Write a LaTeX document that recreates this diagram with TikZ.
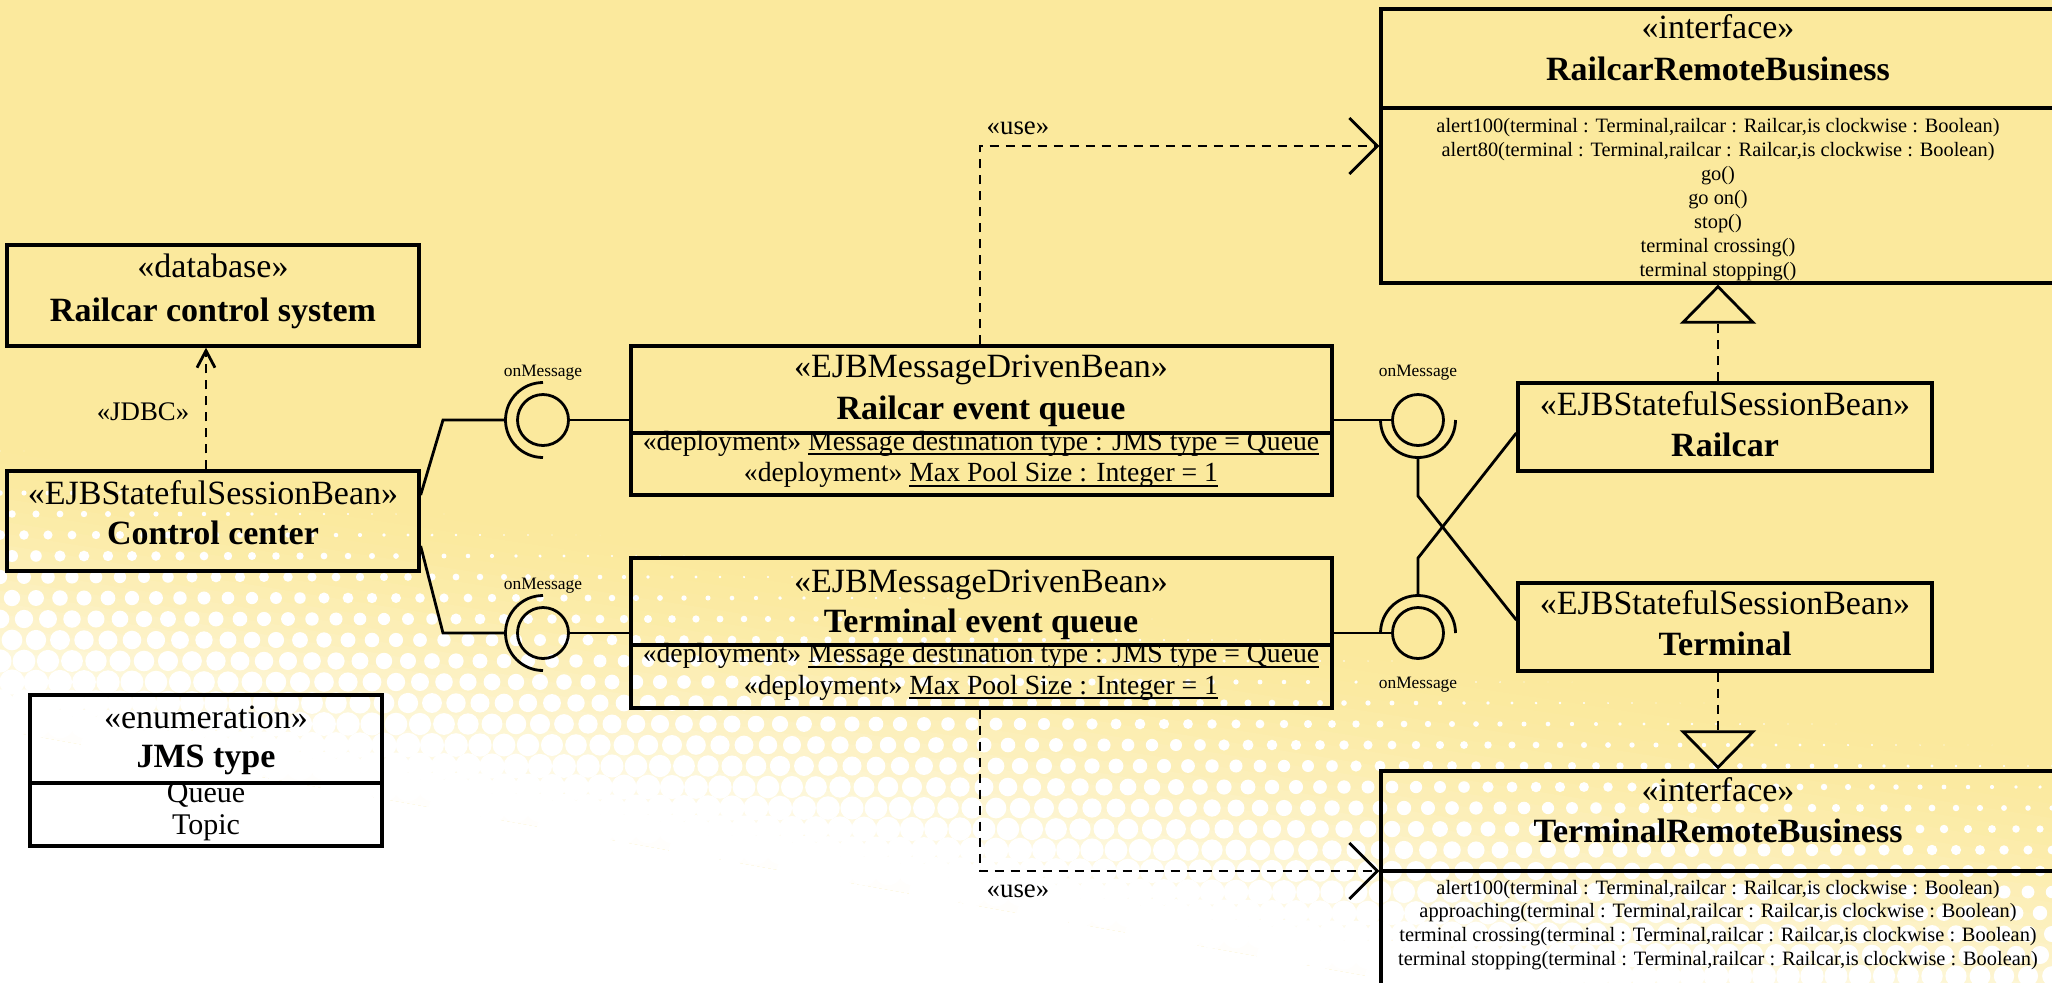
\documentclass[tikz,border=0pt]{standalone}
\usepackage{fontspec}
\setmainfont{Liberation Serif}
\usetikzlibrary{arrows.meta,calc}
\definecolor{bgyellow}{RGB}{251,233,157}
% underline set just under the baseline, through the descenders
\newcommand{\undl}[1]{\setbox0\hbox{#1}\rlap{\vrule height -1.7pt depth 2.6pt width \wd0}\box0}
\tikzset{
  umlbox/.style={draw, rectangle, line width=1.65pt, inner sep=0pt},
  sep/.style={line width=1.65pt},
  conn/.style={line width=1.4pt},
  dep/.style={conn, dash pattern=on 4.8pt off 3.2pt},
  lbl/.style={inner sep=0pt, text height=0.9em, text depth=0.2em, anchor=center},
  hdr/.style={lbl, font=\fontsize{17}{20}\selectfont},
  hdrb/.style={lbl, font=\fontsize{17}{20}\selectfont\bfseries},
  attr/.style={lbl, font=\fontsize{13.85}{16}\selectfont},
  lit/.style={lbl, font=\fontsize{15}{18}\selectfont},
  op/.style={lbl, font=\fontsize{10.2}{12}\selectfont},
  portlbl/.style={lbl, font=\fontsize{8.7}{10}\selectfont},
  deplbl/.style={lbl, font=\fontsize{13.4}{16}\selectfont},
  ball/.style={draw, circle, line width=1.4pt, minimum size=25.5pt, inner sep=0pt},
  socket/.style={line width=1.4pt},
  openv/.style={-{Straight Barb[length=14pt,width=28pt,line width=1.4pt]}},
  smallv/.style={-{Straight Barb[length=8.5pt,width=9pt,line width=1.4pt]}},
  realize/.style={-{Triangle[open,length=19.5pt,width=38pt,line width=1.4pt]}},
}
% halftone band: t = 0 on y = 440 + 0.15x, t = 1 on y = 730 + 0.18x
\newcommand{\bandy}[2]{440+0.15*(#1)+(#2)*(290+0.03*(#1))}
\begin{document}
\begin{tikzpicture}[x=0.5pt,y=-0.5pt]
\useasboundingbox (0,0) rectangle (2052,982);
\clip (0,0) rectangle (2052,982);

% paper: yellow fading into white through a halftone band
\fill[bgyellow] (0,0) rectangle (2052,982);
\foreach \k in {0,...,24}{
  \pgfmathsetmacro{\ta}{\k/25}
  \pgfmathsetmacro{\tb}{min(1,(\k+1.6)/25)}
  \pgfmathsetmacro{\mix}{100*(1-(\ta+0.02)^1.6)}
  \pgfmathsetmacro{\ya}{\bandy{0}{\ta}}
  \pgfmathsetmacro{\yb}{\bandy{2052}{\ta}}
  \pgfmathsetmacro{\yc}{\bandy{2052}{\tb}}
  \pgfmathsetmacro{\yd}{\bandy{0}{\tb}}
  \fill[bgyellow!\mix!white] (0,\ya) -- (2052,\yb) -- (2052,\yc) -- (0,\yd) -- cycle;
}
\fill[white] (0,730) -- (2052,1099.4) -- (2052,1200) -- (0,1200) -- cycle;
\foreach \j in {0,...,27}{
  \foreach \i in {0,...,87}{
    \pgfmathsetmacro{\px}{24*\i-12+12*mod(\j,2)}
    \pgfmathsetmacro{\py}{430+21*\j}
    \pgfmathsetmacro{\tval}{(\py-440-0.15*\px)/(290+0.03*\px)}
    \ifdim\tval pt>0pt
      \ifdim\tval pt<1pt
        \fill[white] (\px,\py) circle[radius=\tval*7.6pt];
      \fi
    \fi
  }
}

% classes
\node[umlbox, minimum width=206pt, minimum height=50.5pt] (db) at (213,295.5) {};
\node[hdr]  (dbS) at (213,270) {«database»};
\node[hdrb] (dbN) at (213,314) {Railcar control system};

\node[umlbox, minimum width=206pt, minimum height=50pt] (cc) at (213,521) {};
\node[hdr]  (ccS) at (213,497) {«EJBStatefulSessionBean»};
\node[hdrb] (ccN) at (213,537) {Control center};

\node[umlbox, minimum width=350.5pt, minimum height=74.5pt] (rq) at (981.5,420.5) {};
\draw[sep] (rq.west |- 0,433) -- (rq.east |- 0,433);
\node[hdr]  (rqS) at (981,370) {«EJBMessageDrivenBean»};
\node[hdrb] (rqN) at (981,412) {Railcar event queue};
\node[attr] (rqA) at (981,443) {«deployment» \undl{Message destination type : JMS type = Queue}};
\node[attr] (rqB) at (981,474.5) {«deployment» \undl{Max Pool Size : Integer = 1}};

\node[umlbox, minimum width=350.5pt, minimum height=75pt] (tq) at (981.5,633) {};
\draw[sep] (tq.west |- 0,645) -- (tq.east |- 0,645);
\node[hdr]  (tqS) at (981,585) {«EJBMessageDrivenBean»};
\node[hdrb] (tqN) at (981,625) {Terminal event queue};
\node[attr] (tqA) at (981,655.5) {«deployment» \undl{Message destination type : JMS type = Queue}};
\node[attr] (tqB) at (981,687) {«deployment» \undl{Max Pool Size : Integer = 1}};

\node[umlbox, minimum width=207pt, minimum height=44pt] (rs) at (1725,427) {};
\node[hdr]  (rsS) at (1725,408) {«EJBStatefulSessionBean»};
\node[hdrb] (rsN) at (1725,449) {Railcar};

\node[umlbox, minimum width=207pt, minimum height=44pt] (ts) at (1725,627) {};
\node[hdr]  (tsS) at (1725,607) {«EJBStatefulSessionBean»};
\node[hdrb] (tsN) at (1725,648) {Terminal};

\node[umlbox, minimum width=337.5pt, minimum height=137pt] (rrb) at (1718.5,146) {};
\draw[sep] (rrb.west |- 0,108) -- (rrb.east |- 0,108);
\node[hdr]  (rrbS) at (1718,31) {«interface»};
\node[hdrb] (rrbN) at (1718,73) {RailcarRemoteBusiness};
\foreach \t [count=\k] in {
  {alert100(terminal : Terminal,railcar : Railcar,is clockwise : Boolean)},
  {alert80(terminal : Terminal,railcar : Railcar,is clockwise : Boolean)},
  {go()}, {go on()}, {stop()}, {terminal crossing()}, {terminal stopping()}}
  \node[op] (rrbOp\k) at (1718,{125+24*(\k-1)}) {\t};

\node[umlbox, minimum width=337.5pt, minimum height=112pt] (trb) at (1718.5,883) {};
\draw[sep] (trb.west |- 0,871) -- (trb.east |- 0,871);
\node[hdr]  (trbS) at (1718,794) {«interface»};
\node[hdrb] (trbN) at (1718,835) {TerminalRemoteBusiness};
\foreach \t [count=\k] in {
  {alert100(terminal : Terminal,railcar : Railcar,is clockwise : Boolean)},
  {approaching(terminal : Terminal,railcar : Railcar,is clockwise : Boolean)},
  {terminal crossing(terminal : Terminal,railcar : Railcar,is clockwise : Boolean)},
  {terminal stopping(terminal : Terminal,railcar : Railcar,is clockwise : Boolean)}}
  \node[op] (trbOp\k) at (1718,{887+23.7*(\k-1)}) {\t};

\node[umlbox, minimum width=176pt, minimum height=75.5pt] (jms) at (206,770.5) {};
\draw[sep] (jms.west |- 0,783) -- (jms.east |- 0,783);
\node[hdr]  (jmsS) at (206,721) {«enumeration»};
\node[hdrb] (jmsN) at (206,760) {JMS type};
\node[lit]  (jmsQ) at (206,795) {Queue};
\node[lit]  (jmsT) at (206,827) {Topic};

% provided (ball) and required (socket) onMessage interfaces
\node[ball] (p1) at (543,420) {};
\node[ball] (p2) at (543,633) {};
\node[ball] (p3) at (1418,420) {};
\node[ball] (p4) at (1418,633) {};
\draw[socket] ([yshift=18.75pt]p1.center) arc[start angle=90,end angle=270,radius=18.75pt];
\draw[socket] ([yshift=18.75pt]p2.center) arc[start angle=90,end angle=270,radius=18.75pt];
\draw[socket] ([xshift=-18.75pt]p3.center) arc[start angle=180,end angle=360,radius=18.75pt];
\draw[socket] ([xshift=-18.75pt]p4.center) arc[start angle=180,end angle=0,radius=18.75pt];
\node[portlbl] (p1L) at (543,369) {onMessage};
\node[portlbl] (p2L) at (543,582) {onMessage};
\node[portlbl] (p3L) at (1418,369) {onMessage};
\node[portlbl] (p4L) at (1418,681) {onMessage};

% assembly connectors
\draw[conn] (cc.east |- 0,495) -- (443,420) -- ([xshift=-18.75pt]p1.center);
\draw[conn] (cc.east |- 0,546) -- (443,633) -- ([xshift=-18.75pt]p2.center);
\draw[conn] (p1.east) -- (rq.west |- p1.east);
\draw[conn] (p2.east) -- (tq.west |- p2.east);
\draw[conn] (rq.east |- p3.west) -- (p3.west);
\draw[conn] (tq.east |- p4.west) -- (p4.west);
\draw[conn] ([yshift=-18.75pt]p3.center) -- (1418,496) -- (ts.west |- 0,620);
\draw[conn] ([yshift=18.75pt]p4.center) -- (1418,558) -- (rs.west |- 0,433);

% dependencies
\draw[dep, smallv] (cc.north -| 206,0) -- (db.south -| 206,0);
\node[deplbl] (jdbc) at (143,413) {«JDBC»};
\draw[dep, openv] (rq.north -| 980,0) -- (980,146) -- (rrb.west |- 0,146);
\node[deplbl] (use1) at (1018,127) {«use»};
\draw[dep, openv] (tq.south -| 980,0) -- (980,871) -- (trb.west |- 0,871);
\node[deplbl] (use2) at (1018,890) {«use»};

% realizations
\draw[dep, realize] (rs.north -| 1718,0) -- (rrb.south -| 1718,0);
\draw[dep, realize] (ts.south -| 1718,0) -- (trb.north -| 1718,0);
\end{tikzpicture}
\end{document}
